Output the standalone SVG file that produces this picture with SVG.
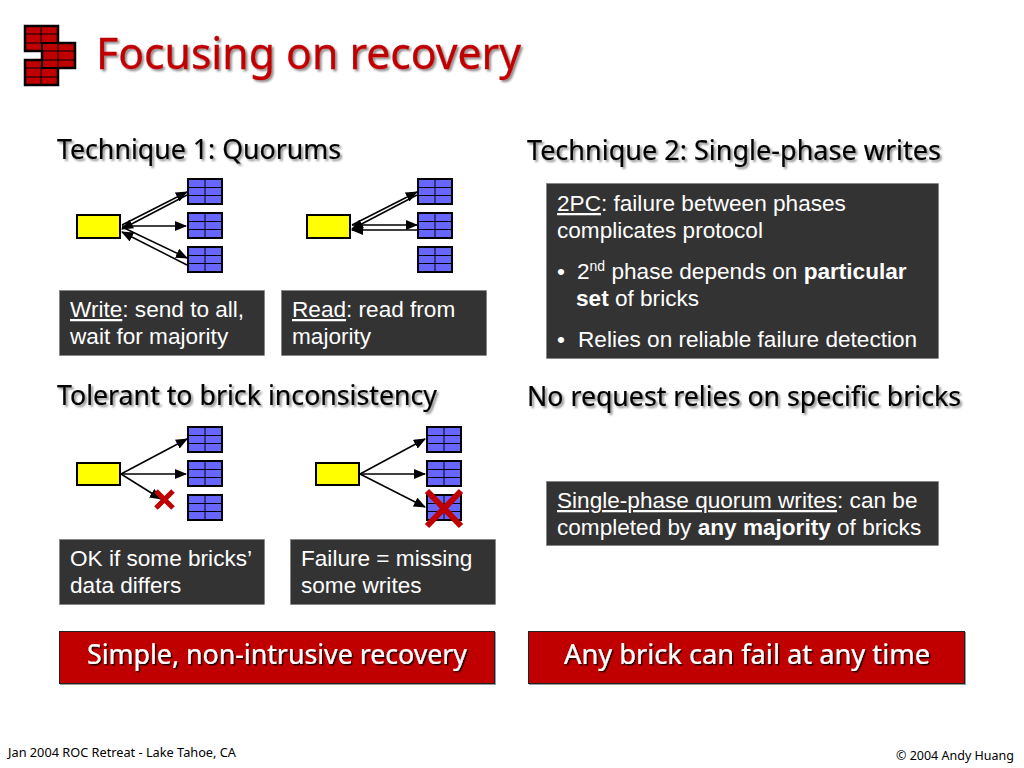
<svg xmlns="http://www.w3.org/2000/svg" xmlns:xlink="http://www.w3.org/1999/xlink" width="1024" height="768" viewBox="0 0 1024 768">
<style>
.h{font-family:"Noto Sans","DejaVu Sans",sans-serif;font-size:28px;fill:#000;stroke:#000;stroke-width:.2;filter:url(#sh)}
.b{font-family:"Liberation Sans",Arial,sans-serif;font-size:22.600px;fill:#fff}
.box{fill:#333;stroke:#777;stroke-width:.5}
.red{fill:#c00000;stroke:#222;stroke-width:1;filter:url(#sh4)}
.w{font-family:"Noto Sans","DejaVu Sans",sans-serif;font-size:28px;fill:#fff;stroke:#fff;stroke-width:.2;filter:url(#sh2)}
.f{font-family:"Noto Sans","DejaVu Sans",sans-serif;font-size:12.500px;fill:#000}
.br{fill:#6666ff;stroke:#000;stroke-width:2}
.bl{stroke:#000;stroke-width:1;fill:none}
.y{fill:#ff0;stroke:#000;stroke-width:2}
.c{stroke:#000;stroke-width:1.500;fill:none}
.x{stroke:#c00000;stroke-width:5;fill:none}
.lg{stroke:#000;stroke-width:1;fill:none}
</style>
<defs>
<filter id="sh" x="-5%" y="-20%" width="110%" height="150%"><feDropShadow dx="2" dy="2" stdDeviation="1" flood-color="#000" flood-opacity=".45"/></filter>
<filter id="sh2" x="-5%" y="-20%" width="110%" height="150%"><feDropShadow dx="1.500" dy="1.500" stdDeviation=".7" flood-color="#000" flood-opacity=".8"/></filter>
<filter id="sh4" x="-2%" y="-5%" width="104%" height="110%"><feDropShadow dx="1" dy="1" stdDeviation=".4" flood-color="#000" flood-opacity=".4"/></filter>
<marker id="a" markerUnits="userSpaceOnUse" markerWidth="12" markerHeight="10" refX="11" refY="5" orient="auto-start-reverse"><path d="M0 0L12 5L0 10Z" fill="#000"/></marker>
<g id="brick"><rect class="br" width="34" height="25"/><path class="bl" d="M17 0V25M0 8.500H34M0 16.500H34"/></g>
</defs>
<rect width="1024" height="768" fill="#fff"/>

<g id="logo">
<path d="M25 26H58V43H75V68H58V85H25V60H42V51H25Z" fill="#c00000"/>
<path d="M25 26H58V43H75V68H58V85H25V60H42V51H25Z" fill="none" stroke="#000" stroke-width="2.500"/>
<path d="M42 43V68M42 43H58M42 68H58" fill="none" stroke="#000" stroke-width="2"/>
<path class="lg" d="M41 26V43M25 34H58M25 43H42M58 43V68M42 51H75M42 60H75M41 68V85M25 68H42M25 77H58"/>
</g>
<text id="title" x="96" y="69" style="font-family:'Noto Sans','DejaVu Sans',sans-serif;font-size:43px;fill:#c00000;stroke:#c00000;stroke-width:.3;filter:url(#sh)" textLength="425" lengthAdjust="spacingAndGlyphs">Focusing on recovery</text>

<text id="h1" class="h" x="57" y="159" textLength="284" lengthAdjust="spacingAndGlyphs">Technique 1: Quorums</text>
<text id="h2" class="h" x="527" y="160" textLength="414" lengthAdjust="spacingAndGlyphs">Technique 2: Single-phase writes</text>
<text id="h3" class="h" x="57" y="405" textLength="380" lengthAdjust="spacingAndGlyphs">Tolerant to brick inconsistency</text>
<text id="h4" class="h" x="527" y="406" textLength="434" lengthAdjust="spacingAndGlyphs">No request relies on specific bricks</text>

<g id="connectors">
<path class="c" marker-end="url(#a)" d="M122 225L187 192"/>
<path class="c" marker-start="url(#a)" d="M122 229L187 195"/>
<path class="c" marker-end="url(#a)" d="M122 226H186"/>
<path class="c" marker-end="url(#a)" d="M122 227L187 258"/>
<path class="c" marker-start="url(#a)" d="M122 232L187 265"/>
<path class="c" marker-end="url(#a)" d="M352 225L417 192"/>
<path class="c" marker-start="url(#a)" d="M352 229L417 195"/>
<path class="c" marker-end="url(#a)" d="M352 225H417"/>
<path class="c" marker-start="url(#a)" d="M352 230H417"/>
<path class="c" marker-end="url(#a)" d="M121 474L187 439"/>
<path class="c" marker-end="url(#a)" d="M121 474H186"/>
<path class="c" marker-end="url(#a)" d="M121 474L161 499"/>
<path class="c" marker-end="url(#a)" d="M360 474L425 439"/>
<path class="c" marker-end="url(#a)" d="M360 474H425"/>
<path class="c" marker-end="url(#a)" d="M360 474L425 507"/>
</g>

<g id="q1"><rect class="y" x="77" y="215" width="43" height="23"/><use xlink:href="#brick" x="188" y="179"/><use xlink:href="#brick" x="188" y="213"/><use xlink:href="#brick" x="188" y="247"/></g>
<g id="q2"><rect class="y" x="307" y="215" width="43" height="23"/><use xlink:href="#brick" x="418" y="179"/><use xlink:href="#brick" x="418" y="213"/><use xlink:href="#brick" x="418" y="247"/></g>
<g id="q3"><rect class="y" x="77" y="463" width="43" height="22"/><use xlink:href="#brick" x="188" y="427"/><use xlink:href="#brick" x="188" y="461"/><use xlink:href="#brick" x="188" y="495"/>
<path class="x" d="M156 491L173 508M173 491L156 508"/></g>
<g id="q4"><rect class="y" x="316" y="463" width="43" height="22"/><use xlink:href="#brick" x="427" y="427"/><use xlink:href="#brick" x="427" y="461"/><use xlink:href="#brick" x="427" y="495"/>
<path class="x" style="stroke-width:6" d="M427 491L461 526M461 491L427 526"/></g>

<g id="write"><rect class="box" x="59.500" y="290.500" width="205" height="65"/>
<text class="b" x="70" y="317"><tspan text-decoration="underline">Write</tspan>: send to all,</text><text class="b" x="70" y="344">wait for majority</text></g>
<g id="read"><rect class="box" x="281.500" y="290.500" width="205" height="65"/>
<text class="b" x="292" y="317"><tspan text-decoration="underline">Read</tspan>: read from</text><text class="b" x="292" y="344">majority</text></g>
<g id="ok"><rect class="box" x="59.500" y="539.500" width="205" height="65"/>
<text class="b" x="70" y="566">OK if some bricks’</text><text class="b" x="70" y="593">data differs</text></g>
<g id="fail"><rect class="box" x="290.500" y="539.500" width="205" height="65"/>
<text class="b" x="301" y="566">Failure = missing</text><text class="b" x="301" y="593">some writes</text></g>

<g id="twopc"><rect class="box" x="546.500" y="183.500" width="392" height="175"/>
<text class="b" x="557" y="211"><tspan text-decoration="underline">2PC</tspan>: failure between phases</text>
<text class="b" x="557" y="238">complicates protocol</text>
<text class="b" x="557" y="279">•</text>
<text class="b" x="577" y="279">2<tspan font-size="14" dy="-8">nd</tspan><tspan dy="8"> phase depends on </tspan><tspan font-weight="bold">particular</tspan></text>
<text class="b" x="576" y="306"><tspan font-weight="bold">set</tspan> of bricks</text>
<text class="b" x="557" y="347">•</text>
<text class="b" x="578" y="347">Relies on reliable failure detection</text></g>
<g id="single"><rect class="box" x="546.500" y="481.500" width="392" height="64"/>
<text class="b" x="557" y="508"><tspan text-decoration="underline">Single-phase quorum writes</tspan>: can be</text>
<text class="b" x="557" y="535">completed by <tspan font-weight="bold">any majority</tspan> of bricks</text></g>

<g id="simple"><rect class="red" x="59.500" y="631.500" width="435" height="52"/>
<text class="w" x="87" y="664" textLength="380" lengthAdjust="spacingAndGlyphs">Simple, non-intrusive recovery</text></g>
<g id="any"><rect class="red" x="528.500" y="631.500" width="436" height="52"/>
<text class="w" x="564" y="664" textLength="366" lengthAdjust="spacingAndGlyphs">Any brick can fail at any time</text></g>

<text id="foot1" class="f" x="8" y="757" textLength="228" lengthAdjust="spacingAndGlyphs">Jan 2004 ROC Retreat - Lake Tahoe, CA</text>
<text id="foot2" class="f" x="896" y="760" textLength="118" lengthAdjust="spacingAndGlyphs">© 2004 Andy Huang</text>
</svg>
